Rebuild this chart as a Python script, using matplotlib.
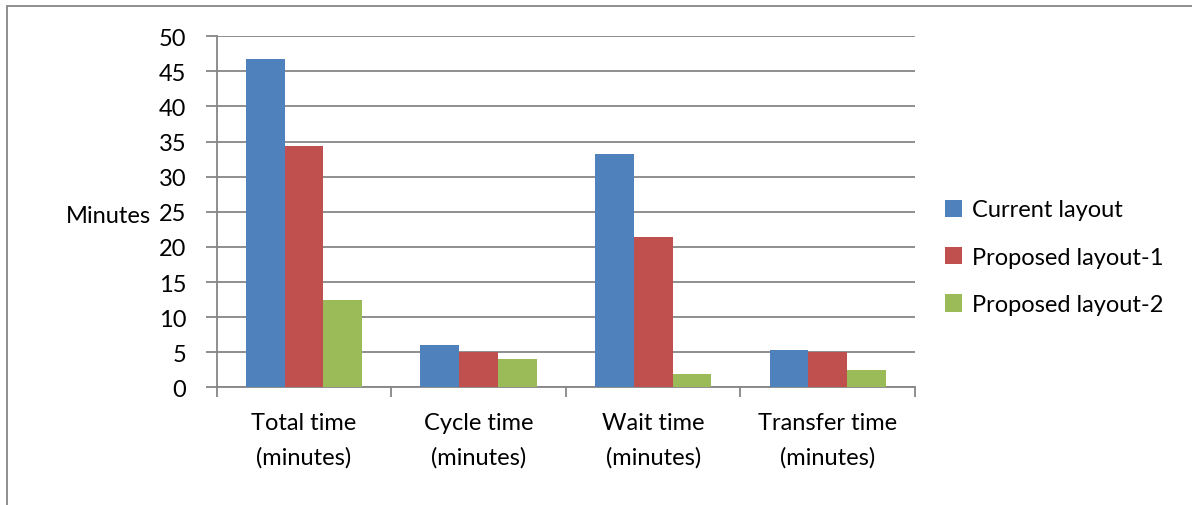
import numpy as np
import matplotlib.pyplot as plt
from matplotlib.patches import Rectangle

categories = ['Total time\n(minutes)', 'Cycle time\n(minutes)',
              'Wait time\n(minutes)', 'Transfer time\n(minutes)']
series_names = ['Current layout', 'Proposed layout-1', 'Proposed layout-2']
current = [46.7, 6.0, 33.2, 5.3]
proposed_1 = [34.4, 5.0, 21.4, 5.0]
proposed_2 = [12.4, 4.0, 1.9, 2.4]
colors = ['#4F81BD', '#C0504D', '#9BBB59']

plt.rcParams['font.family'] = ['Lato', 'DejaVu Sans']
plt.rcParams['font.size'] = 17

fig = plt.figure(figsize=(11.92, 5.06), dpi=100)
ax = fig.add_axes([0.1818, 0.2326, 0.5858, 0.6937])

x = np.arange(len(categories))
w = 1 / 4.5
for i, (vals, name) in enumerate(zip([current, proposed_1, proposed_2], series_names)):
    ax.bar(x + (i - 1) * w, vals, width=w, color=colors[i], label=name, zorder=3)

ax.set_xlim(-0.5, len(categories) - 0.5)
ax.set_ylim(0, 50)
ax.set_yticks(range(0, 51, 5))
ax.yaxis.grid(True, color='#868686', linewidth=1.3, zorder=0)

# category boundary ticks, labels centred between them
ax.set_xticks(np.arange(-0.5, len(categories), 1))
ax.set_xticklabels([])
ax.set_xticks(x, minor=True)
ax.set_xticklabels(categories, minor=True, linespacing=1.72)
ax.tick_params(axis='x', which='minor', length=0, pad=18)
ax.tick_params(axis='x', which='major', length=7, width=1.3, color='#868686')
ax.tick_params(axis='y', length=8, width=1.3, color='#868686', pad=14)

for s in ['top', 'right']:
    ax.spines[s].set_visible(False)
for s in ['left', 'bottom']:
    ax.spines[s].set_color('#868686')
    ax.spines[s].set_linewidth(1.3)

fig.text(0.127, 0.573, 'Minutes', ha='right', va='center')

ax.legend(loc='center left', bbox_to_anchor=(1.012, 0.37), frameon=False,
          handlelength=0.75, handleheight=0.75, handletextpad=0.4,
          labelspacing=1.12)

# outer chart frame (only left and top edges fall inside the image)
fig.patches.append(Rectangle((0.0055, -0.1), 1.2, 1.086, transform=fig.transFigure,
                             fill=False, edgecolor='#868686', linewidth=1.3))

fig.savefig('out.png', dpi=100)
